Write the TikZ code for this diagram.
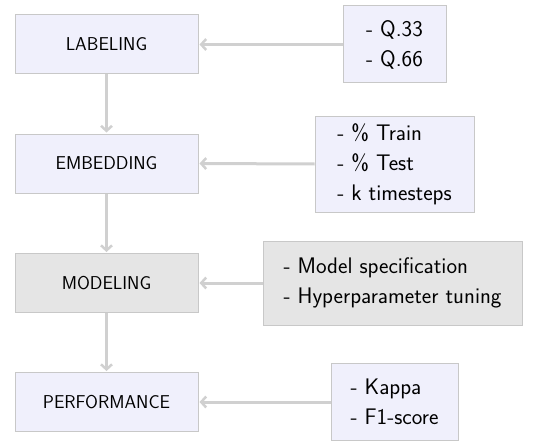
\documentclass[tikz,border=0pt]{standalone}
\usetikzlibrary{arrows.meta}
\definecolor{boxfill}{RGB}{240,240,252}
\definecolor{grayfill}{RGB}{229,229,229}
\definecolor{edgegray}{RGB}{200,200,200}
\definecolor{arrowgray}{RGB}{208,208,208}
\begin{document}
\begin{tikzpicture}[x=1pt,y=-1pt,
  stage/.style={draw=edgegray, line width=1pt, fill=boxfill, minimum width=183pt, minimum height=59pt, inner sep=0pt, font=\sffamily\fontsize{18.6}{22}\selectfont},
  param/.style={draw=edgegray, line width=1pt, fill=boxfill, inner sep=0pt, align=left, font=\sffamily\fontsize{22.5}{30}\selectfont},
  flow/.style={draw=arrowgray, line width=3pt, -{Straight Barb[length=5pt,width=11pt,line width=2.5pt]}, shorten >=1pt}]
\useasboundingbox (0,0) rectangle (556,441);
\node[stage] (lab) at (106.5,44.5) {LABELING};
\node[stage] (emb) at (106.5,163.5) {EMBEDDING};
\node[stage, fill=grayfill] (mod) at (106.5,283) {MODELING};
\node[stage] (perf) at (106.5,402) {PERFORMANCE};
\node[param, minimum width=103pt, minimum height=77pt] (q) at (394.5,44.5) {- Q.33\\- Q.66};
\node[param, minimum width=159pt, minimum height=96pt] (tt) at (394.5,164) {- \% Train\\- \% Test\\- k timesteps};
\node[param, fill=grayfill, minimum width=259pt, minimum height=84pt] (ms) at (392.5,283) {- Model specification\\- Hyperparameter tuning};
\node[param, minimum width=127pt, minimum height=77pt] (kp) at (394.5,402) {- Kappa\\- F1-score};
\draw[flow] (lab) -- (emb);
\draw[flow] (emb) -- (mod);
\draw[flow] (mod) -- (perf);
\draw[flow] (q.west) -- (lab.east);
\draw[flow] (tt.west) -- (emb.east);
\draw[flow] (ms.west) -- (mod.east);
\draw[flow] (kp.west) -- (perf.east);
\end{tikzpicture}
\end{document}
